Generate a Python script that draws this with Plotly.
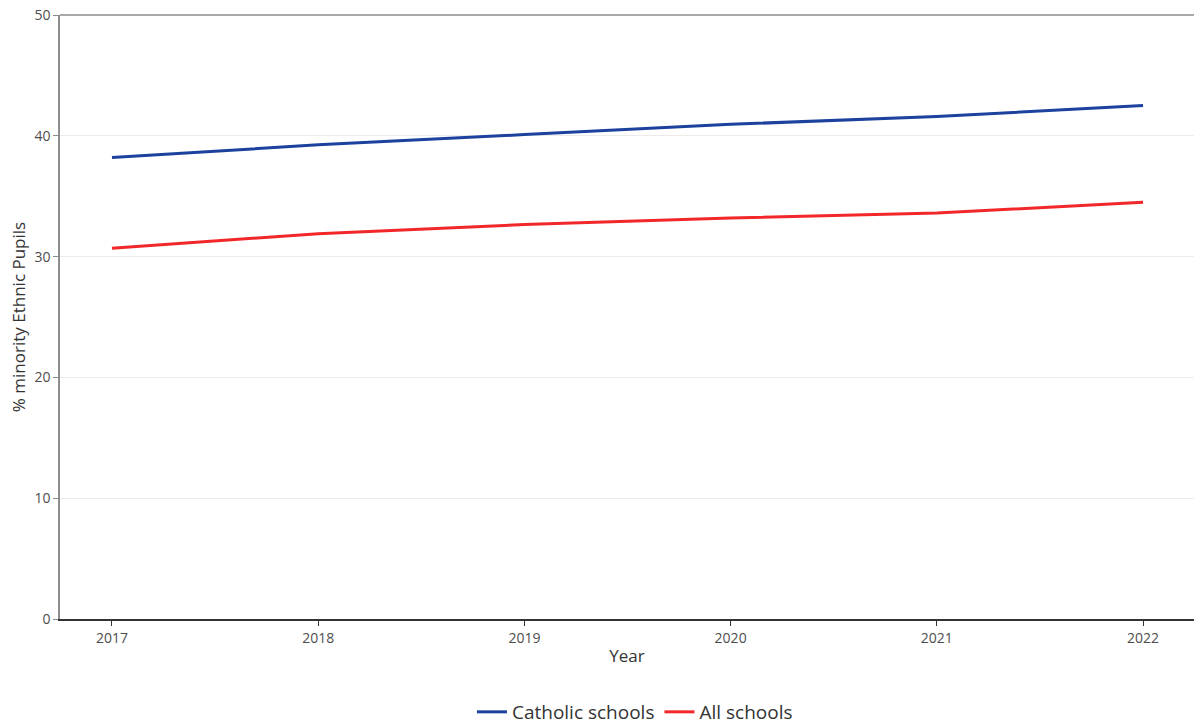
import plotly.graph_objects as go

years = [2017, 2018, 2019, 2020, 2021, 2022]
catholic = [38.2, 39.25, 40.1, 40.95, 41.6, 42.5]
all_schools = [30.7, 31.9, 32.65, 33.2, 33.6, 34.5]
y_ticks = [0, 10, 20, 30, 40, 50]

fig = go.Figure()
fig.add_trace(go.Scatter(x=years, y=catholic, mode="lines", name="Catholic schools",
                         line=dict(color="#1c429e", width=3)))
fig.add_trace(go.Scatter(x=years, y=all_schools, mode="lines", name="All schools",
                         line=dict(color="#f2272a", width=3)))

fig.update_layout(
    width=1194, height=724,
    margin=dict(l=60, r=0, t=15, b=105),
    plot_bgcolor="white", paper_bgcolor="white",
    font=dict(family="Open Sans", color="#333333"),
    legend=dict(orientation="h", x=0.507, xanchor="center",
                yref="container", y=0.0166, yanchor="middle",
                font=dict(size=19, color="#333333"), tracegroupgap=0),
    showlegend=True,
)
fig.update_xaxes(
    range=[2016.748, 2022.247], tickvals=years, ticktext=[str(y) for y in years],
    showgrid=False, zeroline=False,
    showline=True, linecolor="#333333", linewidth=2,
    ticks="outside", ticklen=5, tickcolor="#333333", tickwidth=1,
    tickfont=dict(size=14, color="#4d4d4d"),
    title=dict(text="Year", font=dict(size=17, color="#333333"), standoff=4),
)
fig.update_yaxes(
    range=[0, 50], tickvals=y_ticks,
    showgrid=True, gridcolor="#ebebeb", gridwidth=1, zeroline=False,
    showline=True, linecolor="#8c8c8c", linewidth=1.5,
    ticks="outside", ticklen=5, tickcolor="#8c8c8c", tickwidth=1,
    tickfont=dict(size=14, color="#4d4d4d"),
    title=dict(text="% minority Ethnic Pupils", font=dict(size=17, color="#333333"), standoff=4),
)
fig.add_shape(type="line", xref="paper", yref="paper", x0=0, x1=1, y0=1, y1=1,
              line=dict(color="#8c8c8c", width=1.5))

fig.write_html("out.html", config={"displayModeBar": False},
               post_script="document.body.style.margin='0';document.body.style.overflow='hidden';")
